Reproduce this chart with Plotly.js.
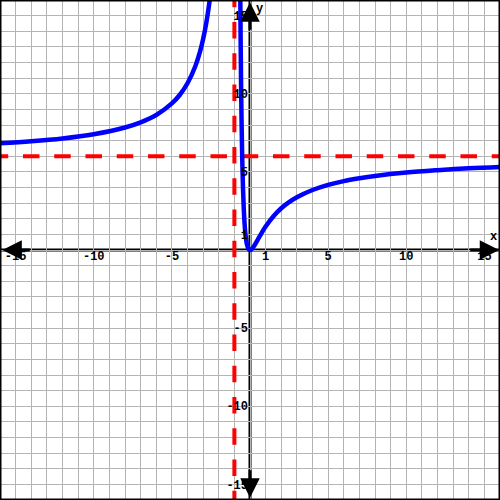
<!DOCTYPE html>
<html>
<head>
<meta charset="utf-8">
<script src="https://cdn.plot.ly/plotly-3.0.1.min.js"></script>
<style>html,body{margin:0;padding:0;background:#fff;}#chart{width:500px;height:500px;}</style>
</head>
<body>
<div id="chart"></div>
<script>
// Curve branches
var leftX = [-16, -14, -12, -10, -8, -7, -6, -5, -4.5, -4, -3.5, -3.2, -3, -2.8, -2.6, -2.5];
var leftY = [6.83, 6.96, 7.14, 7.41, 7.84, 8.17, 8.64, 9.38, 9.92, 10.67, 11.76, 12.69, 13.5, 14.52, 15.84, 16.67];
var rightX = [-0.63, -0.6, -0.57, -0.55, -0.52, -0.5, -0.45, -0.4, -0.35, -0.3, -0.2, -0.1, 0, 0.1, 0.25, 0.5, 0.75, 1, 1.5, 2, 2.5, 3, 4, 5, 6, 7, 8, 10, 12, 14, 16];
var rightY = [17.39, 13.5, 10.54, 8.96, 7.04, 6, 4.02, 2.67, 1.74, 1.10, 0.375, 0.074, 0, 0.05, 0.24, 0.667, 1.10, 1.5, 2.16, 2.67, 3.06, 3.375, 3.84, 4.17, 4.41, 4.59, 4.74, 4.96, 5.11, 5.23, 5.32];
// Asymptotes (x = -1 and y = 6)
var vAsymX = [-1, -1];
var vAsymY = [16.6, -16];
var hAsymX = [-16.53, 16];
var hAsymY = [6, 6];
// Tick labels
var xTickVals = [-15, -10, -5, 1, 5, 10, 15];
var xTickText = ['-15', '-10', '-5', '1', '5', '10', '15'];
var yTickVals = [-15, -10, -5, 1, 5, 10, 15];
var yTickText = ['-15', '-10', '-5', '1', '5', '10', '15'];

var red = '#ff0000', blue = '#0000ff';
var dashPat = '16.5px,14.75px';
var traces = [
  {x: vAsymX, y: vAsymY, mode: 'lines', line: {color: red, width: 4, dash: dashPat}, hoverinfo: 'skip'},
  {x: hAsymX, y: hAsymY, mode: 'lines', line: {color: red, width: 4, dash: dashPat}, hoverinfo: 'skip'},
  {x: leftX, y: leftY, mode: 'lines', line: {color: blue, width: 4.5, shape: 'spline'}, hoverinfo: 'skip'},
  {x: rightX, y: rightY, mode: 'lines', line: {color: blue, width: 4.5, shape: 'spline'}, hoverinfo: 'skip'}
];

var tickFont = {family: 'Liberation Mono, Courier New, monospace', size: 12, color: '#000', weight: 'bold'};
var gridC = '#b4b4b4';
function axis(vals, text, standoff) {
  return {
    range: [-16, 16], fixedrange: true,
    tickmode: 'array', tickvals: vals, ticktext: text,
    ticks: '', tickfont: tickFont, ticklabelstandoff: standoff,
    showgrid: true, gridcolor: gridC, gridwidth: 1,
    minor: {tickmode: 'linear', tick0: 0, dtick: 1, showgrid: true, gridcolor: gridC, gridwidth: 1},
    zeroline: false,
    showline: false,
    anchor: 'free', position: 0.5,
    layer: 'above traces'
  };
}
var xa = axis(xTickVals, xTickText, -3);
var ya = axis(yTickVals, yTickText, 2);

var arrowCommon = {xref: 'x', yref: 'y', axref: 'x', ayref: 'y', showarrow: true, arrowhead: 2, arrowsize: 1.3, arrowwidth: 3, arrowcolor: '#000', text: ''};
var layout = {
  width: 500, height: 500,
  margin: {l: 0, r: 0, t: 0, b: 0},
  paper_bgcolor: '#fff', plot_bgcolor: '#fff',
  showlegend: false,
  xaxis: xa, yaxis: ya,
  annotations: [
    Object.assign({x: 15.95, y: 0, ax: 14, ay: 0}, arrowCommon),
    Object.assign({x: -15.85, y: 0, ax: -14, ay: 0}, arrowCommon),
    Object.assign({x: 0, y: 15.85, ax: 0, ay: 14}, arrowCommon),
    Object.assign({x: 0, y: -15.85, ax: 0, ay: -14}, arrowCommon),
    {x: 15.6, y: 0.85, xref: 'x', yref: 'y', text: 'x', showarrow: false, font: tickFont},
    {x: 0.6, y: 15.45, xref: 'x', yref: 'y', text: 'y', showarrow: false, font: tickFont}
  ],
  shapes: [
    {type: 'line', xref: 'paper', yref: 'y', x0: 0, x1: 1, y0: 0, y1: 0, layer: 'between', line: {color: '#000', width: 3}},
    {type: 'line', xref: 'x', yref: 'paper', x0: 0, x1: 0, y0: 0, y1: 1, layer: 'between', line: {color: '#000', width: 3}},
    {type: 'rect', xref: 'paper', yref: 'paper', x0: 0, x1: 1, y0: 0, y1: 1, line: {color: '#000', width: 3}}
  ]
};
Plotly.newPlot('chart', traces, layout, {staticPlot: true, displayModeBar: false});
</script>
</body>
</html>
